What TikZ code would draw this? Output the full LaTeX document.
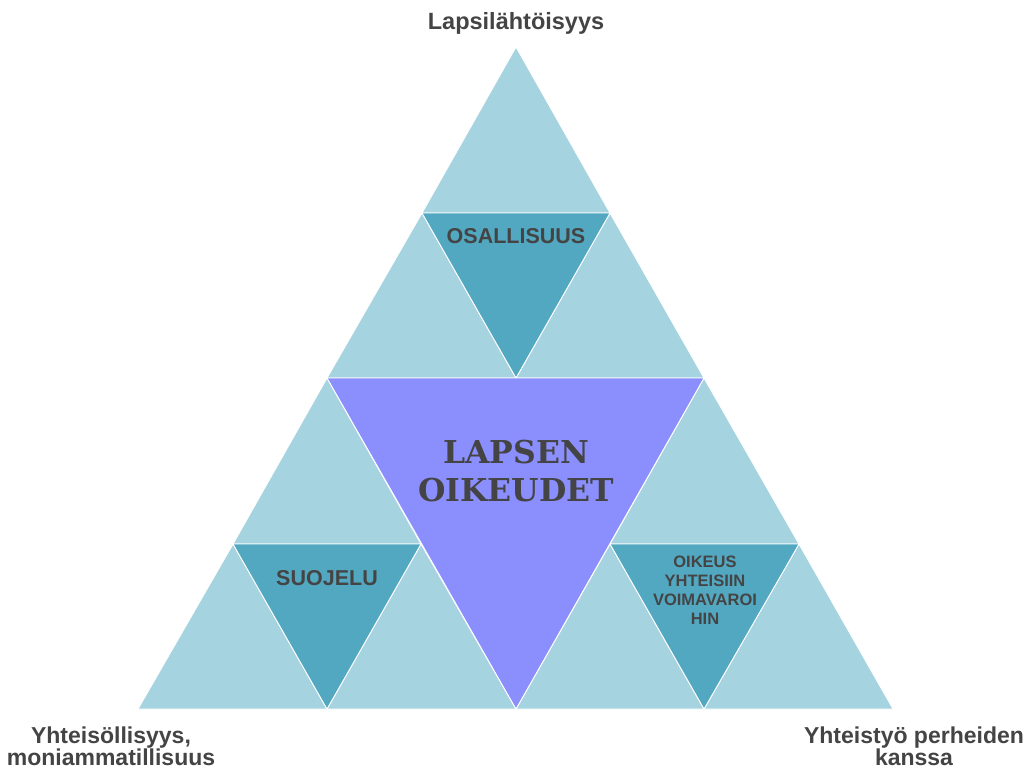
\documentclass[tikz,border=0pt]{standalone}
\usepackage{fontspec}
\setmainfont{Liberation Sans}
\newfontfamily\slabfont{DejaVu Serif}
\begin{document}
\begin{tikzpicture}[x=1pt,y=-1pt,
  light/.style={fill=lightblue,draw=white,line width=0.9pt,line join=round},
  dark/.style={fill=darkteal,draw=white,line width=0.9pt,line join=round},
  core/.style={fill=violet1,draw=white,line width=0.9pt,line join=round},
  lbl/.style={text=ink,font=\bfseries\fontsize{23}{22}\selectfont,align=center,inner sep=0pt},
  inlbl/.style={text=ink,font=\bfseries\fontsize{21.5}{24}\selectfont,align=center,inner sep=0pt},
  smalllbl/.style={text=ink,font=\bfseries\fontsize{16.5}{19}\selectfont,align=center,inner sep=0pt}]
\definecolor{lightblue}{HTML}{A5D3E0}
\definecolor{darkteal}{HTML}{52A8C1}
\definecolor{violet1}{HTML}{8B8EFD}
\definecolor{ink}{HTML}{444444}
\useasboundingbox[fill=white] (0,0) rectangle (1024,769);
% outer corners and mid points
\coordinate (A) at (516,47);
\coordinate (B) at (138,709);
\coordinate (C) at (893,709);
\coordinate (AB) at (327,378);
\coordinate (AC) at (704,378);
\coordinate (BC) at (516,709);
% quarter points
\coordinate (t1) at (422,213);
\coordinate (t2) at (610,213);
\coordinate (l1) at (233,544);
\coordinate (l2) at (421,544);
\coordinate (lb) at (327,709);
\coordinate (r1) at (610,544);
\coordinate (r2) at (799,544);
\coordinate (rb) at (704,709);
% top corner group
\draw[light] (A) -- (t1) -- (t2) -- cycle;
\draw[light] (t1) -- (AB) -- (BC |- AB) -- cycle;
\draw[light] (t2) -- (BC |- AB) -- (AC) -- cycle;
\draw[dark] (t1) -- (t2) -- (BC |- AB) -- cycle;
% left corner group
\draw[light] (AB) -- (l1) -- (l2) -- cycle;
\draw[light] (l1) -- (B) -- (lb) -- cycle;
\draw[light] (l2) -- (lb) -- (BC) -- cycle;
\draw[dark] (l1) -- (l2) -- (lb) -- cycle;
% right corner group
\draw[light] (AC) -- (r1) -- (r2) -- cycle;
\draw[light] (r1) -- (BC) -- (rb) -- cycle;
\draw[light] (r2) -- (rb) -- (C) -- cycle;
\draw[dark] (r1) -- (r2) -- (rb) -- cycle;
% centre
\draw[core] (AB) -- (AC) -- (BC) -- cycle;
% labels
\node[lbl,font=\bfseries\fontsize{23.5}{24}\selectfont] (top) at (516,23) {Lapsilähtöisyys};
\node[lbl] (left) at (111,746) {Yhteisöllisyys,\\moniammatillisuus};
\node[lbl] (right) at (914,746) {Yhteistyö perheiden\\kanssa};
\node[inlbl] (osal) at (516,236) {OSALLISUUS};
\node[inlbl] (suoj) at (327,578) {SUOJELU};
\node[smalllbl] (oik) at (705,590) {OIKEUS\\YHTEISIIN\\VOIMAVAROI\\HIN};
\node[text=ink,font=\slabfont\bfseries\fontsize{31.5}{38}\selectfont,align=center,inner sep=0pt] (core) at (516,471) {LAPSEN\\OIKEUDET};
\end{tikzpicture}
\end{document}
